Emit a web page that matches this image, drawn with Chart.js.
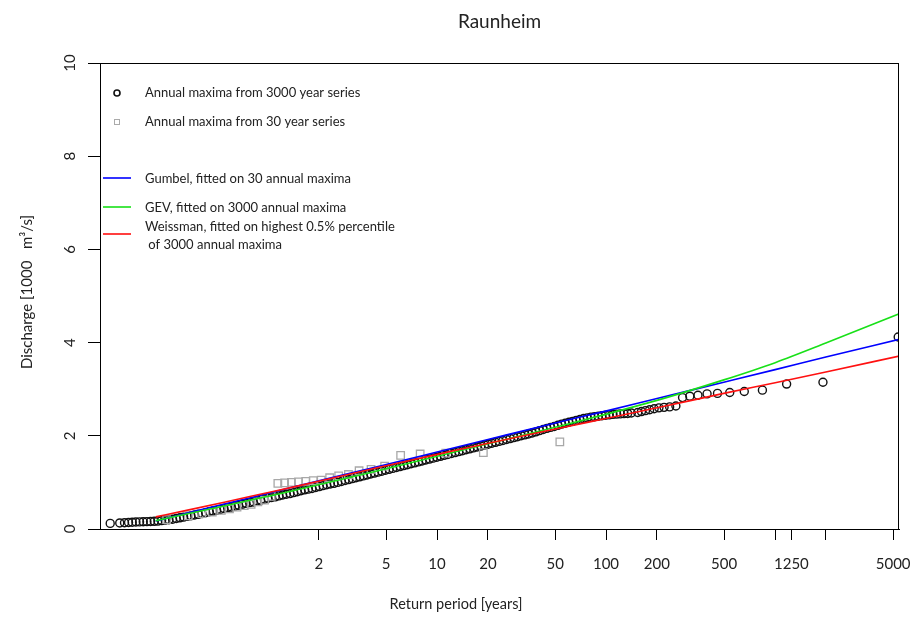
<!DOCTYPE html>
<html lang="en">
<head>
<meta charset="UTF-8">
<title>Raunheim</title>
<script src="https://cdn.jsdelivr.net/npm/chart.js"></script>
<style>
  html, body { margin: 0; padding: 0; background: #fff; }
  #wrap { width: 916px; height: 624px; }
</style>
</head>
<body>
<div id="wrap"><canvas id="cvs" width="916" height="624"></canvas></div>
<script>
// x values are Gumbel reduced variates u = -ln(-ln(1 - 1/T)).
// Tick marks sit at ln(T) for the labelled return periods.
const returnPeriodTicks = [2, 5, 10, 20, 50, 100, 200, 500, 1000, 1250, 2000, 5000];
const returnPeriodLabels = ['2', '5', '10', '20', '50', '100', '200', '500', '', '1250', '', '5000'];
const dischargeTicks = [0, 2, 4, 6, 8, 10];

// annual maxima from the 3000 year series (dense band, then the upper tail)
const max3000U = [
  -2.15, -2.02, -1.955,
  -1.90, -1.85, -1.80, -1.75, -1.70, -1.65, -1.60, -1.55, -1.50, -1.45, -1.40, -1.35,
  -1.30, -1.25, -1.20, -1.15, -1.10, -1.05, -1.00, -0.95, -0.90, -0.85, -0.80, -0.75,
  -0.70, -0.65, -0.60, -0.55, -0.50, -0.45, -0.40, -0.35, -0.30, -0.25, -0.20, -0.15,
  -0.10, -0.05, 0.00, 0.05, 0.10, 0.15, 0.20, 0.25, 0.30, 0.35, 0.40, 0.45,
  0.50, 0.55, 0.60, 0.65, 0.70, 0.75, 0.80, 0.85, 0.90, 0.95, 1.00, 1.05,
  1.10, 1.15, 1.20, 1.25, 1.30, 1.35, 1.40, 1.45, 1.50, 1.55, 1.60, 1.65,
  1.70, 1.75, 1.80, 1.85, 1.90, 1.95, 2.00, 2.05, 2.10, 2.15, 2.20, 2.25,
  2.30, 2.35, 2.40, 2.45, 2.50, 2.55, 2.60, 2.65, 2.70, 2.75, 2.80, 2.85,
  2.90, 2.95, 3.00, 3.05, 3.10, 3.15, 3.20, 3.25, 3.30, 3.35, 3.40, 3.45,
  3.50, 3.55, 3.60, 3.65, 3.70, 3.75, 3.80, 3.85, 3.90, 3.95, 4.00, 4.05,
  4.10, 4.15, 4.20, 4.25, 4.30, 4.35, 4.40, 4.45, 4.50, 4.55, 4.60, 4.65,
  4.70, 4.75, 4.80, 4.85, 4.90, 4.95,
  5.037, 5.088, 5.143, 5.2, 5.261, 5.326, 5.396, 5.472, 5.557,
  5.648, 5.747, 5.858, 5.982, 6.124, 6.291, 6.489, 6.736, 7.066, 7.561, 8.586
];
const max3000Q = [
  0.12, 0.13, 0.135,
  0.140, 0.145, 0.150, 0.152, 0.155, 0.158, 0.160, 0.165, 0.170, 0.180, 0.190, 0.200,
  0.210, 0.225, 0.240, 0.255, 0.270, 0.285, 0.300, 0.315, 0.330, 0.350, 0.370, 0.385,
  0.400, 0.420, 0.440, 0.455, 0.470, 0.490, 0.510, 0.530, 0.550, 0.565, 0.580, 0.600,
  0.620, 0.640, 0.660, 0.675, 0.690, 0.710, 0.730, 0.745, 0.760, 0.780, 0.800, 0.820,
  0.840, 0.855, 0.870, 0.890, 0.910, 0.930, 0.950, 0.965, 0.980, 1.000, 1.020, 1.040,
  1.060, 1.080, 1.100, 1.120, 1.140, 1.160, 1.180, 1.200, 1.220, 1.240, 1.260, 1.280,
  1.300, 1.320, 1.340, 1.360, 1.380, 1.400, 1.420, 1.440, 1.460, 1.480, 1.500, 1.520,
  1.540, 1.560, 1.580, 1.600, 1.620, 1.640, 1.660, 1.680, 1.700, 1.720, 1.740, 1.760,
  1.780, 1.800, 1.820, 1.840, 1.860, 1.880, 1.900, 1.920, 1.940, 1.960, 1.980, 2.000,
  2.020, 2.040, 2.060, 2.085, 2.110, 2.135, 2.160, 2.180, 2.200, 2.225, 2.250, 2.270,
  2.290, 2.310, 2.330, 2.350, 2.370, 2.385, 2.400, 2.410, 2.420, 2.430, 2.440, 2.450,
  2.460, 2.465, 2.470, 2.475, 2.480, 2.490,
  2.50, 2.52, 2.54, 2.56, 2.58, 2.60, 2.61, 2.62, 2.64,
  2.82, 2.85, 2.87, 2.90, 2.91, 2.93, 2.95, 2.98, 3.11, 3.15, 4.12
];

// annual maxima from the 30 year series
const max30U = [
  -1.382, -1.085, -0.902, -0.759, -0.636, -0.525, -0.422, -0.324, -0.230, -0.138,
  -0.047, 0.043, 0.134, 0.226, 0.319, 0.415, 0.514, 0.617, 0.725, 0.840,
  0.963, 1.096, 1.241, 1.404, 1.589, 1.807, 2.073, 2.421, 2.934, 3.976
];
const max30Q = [
  0.20, 0.28, 0.33, 0.36, 0.40, 0.43, 0.47, 0.50, 0.53, 0.58,
  0.62, 0.70, 0.98, 0.99, 1.00, 1.01, 1.02, 1.04, 1.05, 1.10,
  1.14, 1.17, 1.25, 1.28, 1.35, 1.58, 1.61, 1.63, 1.64, 1.87
];

// fitted curves
const curveU = [-1.53, -1.11, -0.58, -0.09, 0.37, 1.50, 2.25, 2.97, 3.90, 4.60, 5.30, 6.21, 6.91, 7.60, 8.60];
const gumbelQ = [0.17, 0.34, 0.54, 0.73, 0.91, 1.34, 1.63, 1.91, 2.27, 2.53, 2.80, 3.15, 3.42, 3.69, 4.07];
const gevQ = [0.18, 0.32, 0.50, 0.67, 0.83, 1.25, 1.54, 1.82, 2.18, 2.46, 2.76, 3.20, 3.57, 3.99, 4.62];
const weissmanQ = [0.26, 0.40, 0.58, 0.75, 0.91, 1.32, 1.58, 1.83, 2.14, 2.37, 2.60, 2.91, 3.14, 3.37, 3.71];

const pts = (xs, ys) => xs.map((x, i) => ({ x: x, y: ys[i] }));

const FONT = 'Lato, "Open Sans", sans-serif';
Chart.defaults.font.family = FONT;
Chart.defaults.color = '#222';

// title, box, rotated y labels, axis titles and legend
const decorations = {
  id: 'decorations',
  afterDraw(chart) {
    const { ctx, chartArea: a, scales: { y } } = chart;
    ctx.save();
    ctx.strokeStyle = '#000';
    ctx.lineWidth = 1;
    ctx.strokeRect(a.left + 0.5, a.top + 0.5, a.right - a.left - 1, a.bottom - a.top);

    ctx.fillStyle = '#222';
    ctx.textAlign = 'center';
    ctx.textBaseline = 'middle';
    ctx.font = '19px ' + FONT;
    ctx.fillText('Raunheim', (a.left + a.right) / 2, 22);

    ctx.font = '15px ' + FONT;
    y.ticks.forEach(t => {
      ctx.save();
      ctx.translate(a.left - 30, y.getPixelForValue(t.value));
      ctx.rotate(-Math.PI / 2);
      ctx.fillText(String(t.value), 0, 0);
      ctx.restore();
    });

    ctx.save();
    ctx.translate(a.left - 73, (a.top + a.bottom) / 2 - 4);
    ctx.rotate(-Math.PI / 2);
    ctx.fillText('Discharge [1000   m\u00b3/s]', 0, 0);
    ctx.restore();

    ctx.font = '14.5px ' + FONT;
    ctx.fillText('Return period [years]', a.left + 356, a.bottom + 75);

    // legend
    const lx = a.left, ly = a.top;
    ctx.font = '13px ' + FONT;
    ctx.textAlign = 'left';
    ctx.beginPath();
    ctx.arc(lx + 17, ly + 30, 3, 0, Math.PI * 2);
    ctx.lineWidth = 1.6;
    ctx.strokeStyle = '#111';
    ctx.stroke();
    ctx.fillText('Annual maxima from 3000 year series', lx + 45, ly + 30);

    ctx.lineWidth = 1;
    ctx.strokeStyle = '#aaa';
    ctx.strokeRect(lx + 14.5, ly + 56.5, 5, 5);
    ctx.fillText('Annual maxima from 30 year series', lx + 45, ly + 59);

    const lines = [
      ['#0000ff', 115, ['Gumbel, fitted on 30 annual maxima'], [116]],
      ['#18e018', 144, ['GEV, fitted on 3000 annual maxima'], [145]],
      ['#ff1010', 171, ['Weissman, fitted on highest 0.5% percentile', ' of 3000 annual maxima'], [164, 182]]
    ];
    lines.forEach(([col, yy, texts, tys]) => {
      ctx.beginPath();
      ctx.moveTo(lx + 3, ly + yy);
      ctx.lineTo(lx + 31, ly + yy);
      ctx.strokeStyle = col;
      ctx.lineWidth = 1.6;
      ctx.stroke();
      texts.forEach((t, i) => ctx.fillText(t, lx + 45, ly + tys[i]));
    });
    ctx.restore();
  }
};

new Chart(document.getElementById('cvs'), {
  type: 'scatter',
  data: {
    datasets: [
      {
        label: 'Annual maxima from 3000 year series',
        data: pts(max3000U, max3000Q),
        pointStyle: 'circle', pointRadius: 4, borderWidth: 1.4,
        borderColor: '#111', backgroundColor: 'rgba(0,0,0,0)', order: 5
      },
      {
        label: 'Annual maxima from 30 year series',
        data: pts(max30U, max30Q),
        pointStyle: 'rect', pointRadius: 5.3, borderWidth: 1.3,
        borderColor: '#a8a8a8', backgroundColor: 'rgba(0,0,0,0)', order: 4
      },
      {
        label: 'Gumbel, fitted on 30 annual maxima',
        data: pts(curveU, gumbelQ), showLine: true, pointRadius: 0,
        borderColor: '#0000ff', borderWidth: 1.6, cubicInterpolationMode: 'monotone', order: 3
      },
      {
        label: 'GEV, fitted on 3000 annual maxima',
        data: pts(curveU, gevQ), showLine: true, pointRadius: 0,
        borderColor: '#18e018', borderWidth: 1.6, cubicInterpolationMode: 'monotone', order: 2
      },
      {
        label: 'Weissman, fitted on highest 0.5% percentile of 3000 annual maxima',
        data: pts(curveU, weissmanQ), showLine: true, pointRadius: 0,
        borderColor: '#ff1010', borderWidth: 1.6, cubicInterpolationMode: 'monotone', order: 1
      }
    ]
  },
  options: {
    responsive: false,
    animation: false,
    layout: { padding: { top: 63, right: 17, left: 0, bottom: 0 } },
    plugins: { legend: { display: false }, tooltip: { enabled: false }, title: { display: false } },
    scales: {
      x: {
        type: 'linear',
        min: -2.289,
        max: 8.597,
        afterBuildTicks: s => { s.ticks = returnPeriodTicks.map(T => ({ value: Math.log(T) })); },
        afterFit: s => { s.height = 95; s.paddingLeft = 0; s.paddingRight = 0; },
        ticks: {
          autoSkip: false, maxRotation: 0, padding: 15,
          font: { size: 15 }, color: '#222',
          callback: (v, i) => returnPeriodLabels[i]
        },
        grid: { drawOnChartArea: false, drawTicks: true, tickLength: 11, color: '#000' },
        border: { display: true, color: '#000', width: 1 }
      },
      y: {
        min: 0,
        max: 10,
        afterBuildTicks: s => { s.ticks = dischargeTicks.map(v => ({ value: v })); },
        afterFit: s => { s.width = 100; s.paddingTop = 0; s.paddingBottom = 0; },
        ticks: { display: false },
        grid: { drawOnChartArea: false, drawTicks: true, tickLength: 12, color: '#000' },
        border: { display: true, color: '#000', width: 1 }
      }
    }
  },
  plugins: [decorations]
});
</script>
</body>
</html>
